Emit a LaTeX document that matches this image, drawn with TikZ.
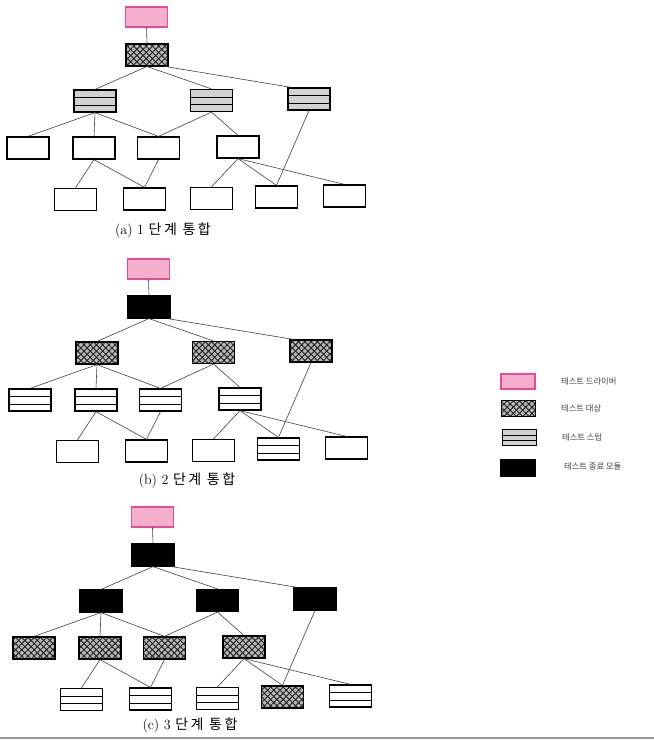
\documentclass[tikz,border=0pt]{standalone}
\usepackage{fontspec}
\newfontfamily\kr{Noto Sans CJK KR}
\newfontfamily\krcap[LetterSpace=18]{Noto Sans CJK KR}
\usetikzlibrary{patterns.meta, calc}
\definecolor{drvpink}{HTML}{F4AFCC}
\definecolor{drvedge}{HTML}{E84A9B}

\begin{document}
\begin{tikzpicture}[
  x=1pt, y=-1pt,
  every node/.style={inner sep=0pt},
  box/.style={rectangle, draw=black, line width=1.2pt, minimum width=42pt, minimum height=22pt},
  driver/.style={box, draw=drvedge, fill=drvpink, minimum height=20pt},
  target/.style={box, preaction={fill=gray!55},
    preaction={pattern={Lines[angle=45, distance=4.4pt, line width=1pt]}, pattern color=black!85},
    pattern={Lines[angle=-45, distance=4.4pt, line width=1pt]}, pattern color=black!85},
  stub/.style={box, fill=gray!35, path picture={
    \draw[line width=0.8pt]
      ($(path picture bounding box.north west)!0.34!(path picture bounding box.south west)$) --
      ($(path picture bounding box.north east)!0.34!(path picture bounding box.south east)$)
      ($(path picture bounding box.north west)!0.68!(path picture bounding box.south west)$) --
      ($(path picture bounding box.north east)!0.68!(path picture bounding box.south east)$);}},
  stubw/.style={stub, fill=white},
  done/.style={box, fill=black},
  plain/.style={box, fill=white},
  conn/.style={draw=black!75, line width=0.6pt},
  captext/.style={font=\fontsize{14}{16}\selectfont},
  legtext/.style={anchor=west, text=black!75, font=\kr\fontsize{8.3}{10}\selectfont}
]
\useasboundingbox (0,0) rectangle (654,740);

% three integration steps
\foreach \p/\dx/\dy/\st/\ss/\sm/\sl/\sf/\cx/\cy/\num in {
    a/0/0/target/stub/plain/plain/plain/163/230/1,
    b/2/252/done/target/stubw/plain/stubw/187/480/2,
    c/6/500/done/done/target/stubw/target/190/725/3}
{
  \begin{scope}[shift={(\dx,\dy)}]
    \node[driver] (\p-drv) at (146.5,17) {};
    \node[\st] (\p-top) at (147,55) {};
    \node[\ss] (\p-s1) at (95,101) {};
    \node[\ss] (\p-s2) at (211.5,100.5) {};
    \node[\ss] (\p-s3) at (309,99) {};
    \node[\sm] (\p-m1) at (28,148) {};
    \node[\sm] (\p-m2) at (94,148) {};
    \node[\sm] (\p-m3) at (158.5,148) {};
    \node[\sm] (\p-m4) at (238,147) {};
    \node[\sl] (\p-l1) at (75.5,199.5) {};
    \node[\sl] (\p-l2) at (144.5,199) {};
    \node[\sl] (\p-l3) at (211.5,198.5) {};
    \node[\sf] (\p-l4) at (276.5,197) {};
    \node[\sl] (\p-l5) at (344.5,196) {};
  \end{scope}
  \node[captext] (\p-cap) at (\cx,\cy) {(\p) \num\ {\krcap 단계 통합}};

  \foreach \u/\v in {drv/top, top/s1, top/s2, s1/m1, s1/m2, s1/m3, s2/m3, s2/m4,
      s3/l4, m2/l1, m2/l2, m3/l2, m4/l3, m4/l4, m4/l5}
    \draw[conn] (\p-\u.south) -- (\p-\v.north);
  \draw[conn] ([xshift=-3pt]\p-top.south east) -- ([xshift=4pt]\p-s3.north west);
}

% legend
\node[driver, minimum width=34pt, minimum height=15pt] (leg-drv) at (518,381.5) {};
\node[target, minimum width=34pt, minimum height=16pt] (leg-tgt) at (518.5,408.5) {};
\node[stub, minimum width=34pt, minimum height=16pt] (leg-stub) at (519.5,437.5) {};
\node[done, minimum width=34pt, minimum height=16pt] (leg-done) at (518,468) {};
\node[legtext] (leg-drv-t) at (561,381) {테스트 드라이버};
\node[legtext] (leg-tgt-t) at (561,408.5) {테스트 대상};
\node[legtext] (leg-stub-t) at (562,437.5) {테스트 스텁};
\node[legtext] (leg-done-t) at (564,466) {테스트 종료 모듈};

\draw[gray!80, line width=2pt] (0,738) -- (654,738);
\end{tikzpicture}
\end{document}
